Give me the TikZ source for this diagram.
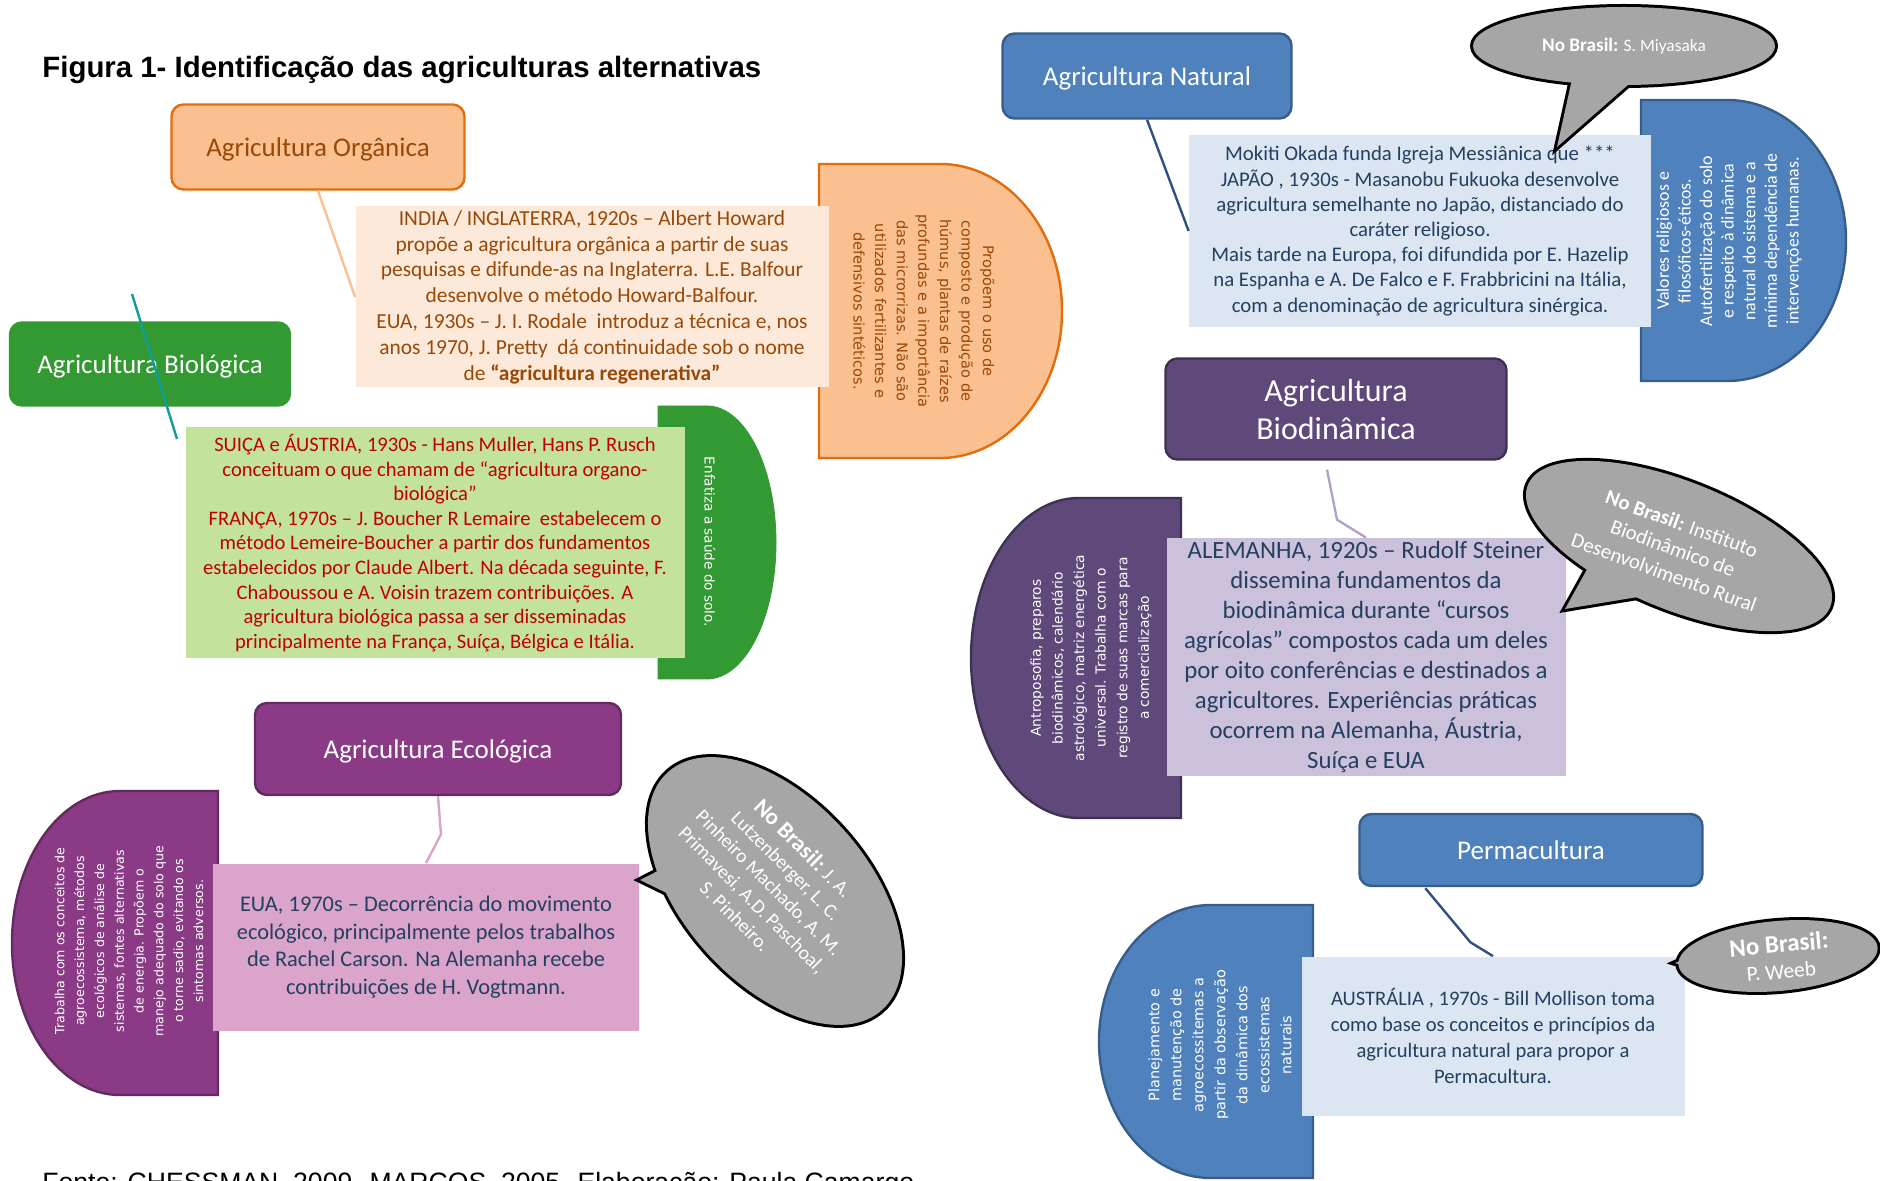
\documentclass[tikz,border=0pt]{standalone}
\usepackage{fontspec}
\setmainfont{Liberation Sans}
\newfontfamily\calib{Carlito}
\newfontfamily\verd{DejaVu Sans}
\usetikzlibrary{calc}
\definecolor{orgfill}{HTML}{FAC090}
\definecolor{orgdraw}{HTML}{E46C0A}
\definecolor{orgtext}{HTML}{984807}
\definecolor{peach}{HTML}{FDE9D9}
\definecolor{biogreen}{HTML}{339933}
\definecolor{biolight}{HTML}{C3E29C}
\definecolor{biored}{HTML}{C00000}
\definecolor{biolink}{HTML}{119C9C}
\definecolor{ecofill}{HTML}{8B3B85}
\definecolor{ecodraw}{HTML}{622A5E}
\definecolor{ecopink}{HTML}{DBA5CB}
\definecolor{ecolink}{HTML}{D9A3CC}
\definecolor{natblue}{HTML}{4F81BD}
\definecolor{natdraw}{HTML}{385D8A}
\definecolor{natlight}{HTML}{DCE6F2}
\definecolor{natlink}{HTML}{2F5080}
\definecolor{navytext}{HTML}{243F60}
\definecolor{biodfill}{HTML}{5F497A}
\definecolor{bioddraw}{HTML}{3F3151}
\definecolor{biodlight}{HTML}{CCC1DA}
\definecolor{biodlink}{HTML}{B3A2C7}
\definecolor{bubgray}{HTML}{A6A6A6}

\begin{document}
\begin{tikzpicture}[x=0.5pt, y=-0.5pt,
	head/.style={draw, rounded corners=6pt, line width=1.2pt, align=center, text=white, text depth=0pt, font=\calib\fontsize{13.5}{16}\selectfont},
	info/.style={inner sep=0pt, align=center},
	side/.style={inner sep=0pt, align=center, text=white},
	link/.style={line width=1.2pt},
	bubline/.style={line width=3pt, line join=miter},
	bubtext/.style={inner sep=0pt, align=center, text=white}]
	\useasboundingbox (0, 0) rectangle (1880, 1181);
	\clip (0, 0) rectangle (1880, 1181);

	\node[anchor=west, inner sep=0pt, font=\bfseries\fontsize{14.7}{17}\selectfont] (titulo) at (42, 70) {Figura 1- Identificação das agriculturas alternativas};
	\node[anchor=north west, inner sep=0pt, font=\fontsize{13.3}{16}\selectfont] (fonte) at (42, 1172) {Fonte: CHESSMAN, 2009. MARCOS, 2005. Elaboração: Paula Camargo};

	\draw[fill=orgfill, draw=orgdraw, line width=1.2pt] (819, 164) -- (940, 164) arc[start angle=90, end angle=-90, x radius=61pt, y radius=73.5pt] -- (819, 458) -- cycle;
	\draw[fill=biogreen, draw=biogreen] (658, 406) -- (707, 406) arc[start angle=90, end angle=-90, x radius=34.5pt, y radius=68.25pt] -- (658, 679) -- cycle;
	\draw[fill=natblue, draw=natdraw, line width=1.2pt] (1641, 100) -- (1727, 100) arc[start angle=90, end angle=-90, x radius=59.5pt, y radius=70.25pt] -- (1641, 381) -- cycle;
	\draw[fill=ecofill, draw=ecodraw, line width=1.2pt] (218, 791) -- (120, 791) arc[start angle=90, end angle=270, x radius=54pt, y radius=76pt] -- (218, 1095) -- cycle;
	\draw[fill=biodfill, draw=bioddraw, line width=1.2pt] (1181, 498) -- (1079, 498) arc[start angle=90, end angle=270, x radius=54pt, y radius=80pt] -- (1181, 818) -- cycle;
	\draw[fill=natblue, draw=natdraw, line width=1.2pt] (1313, 905) -- (1211, 905) arc[start angle=90, end angle=270, x radius=56pt, y radius=68.25pt] -- (1313, 1178) -- cycle;

	\node[info, fill=peach, text=orgtext, minimum width=236.5pt, minimum height=90.5pt, font=\calib\fontsize{10.7}{12.9}\selectfont] (orgtxt) at (592, 297) {INDIA / INGLATERRA, 1920s – Albert Howard\\propõe a agricultura orgânica a partir de suas\\pesquisas e difunde-as na Inglaterra. L.E. Balfour\\desenvolve o método Howard-Balfour.\\EUA, 1930s – J. I. Rodale\ \ introduz a técnica e, nos\\anos 1970, J. Pretty\ \ dá continuidade sob o nome\\de \textbf{“agricultura regenerativa”}};
	\node[info, fill=biolight, text=biored, minimum width=249.5pt, minimum height=115.5pt, font=\calib\fontsize{10.3}{12.3}\selectfont] (biotxt) at (435, 543) {SUIÇA e ÁUSTRIA, 1930s - Hans Muller, Hans P. Rusch\\conceituam o que chamam de “agricultura organo-\\biológica”\\FRANÇA, 1970s – J. Boucher R Lemaire\ \ estabelecem o\\método Lemeire-Boucher a partir dos fundamentos\\estabelecidos por Claude Albert. Na década seguinte, F.\\Chaboussou e A. Voisin trazem contribuições. A\\agricultura biológica passa a ser disseminadas\\principalmente na França, Suíça, Bélgica e Itália.};
	\node[info, fill=ecopink, text=navytext, minimum width=213pt, minimum height=83.5pt, font=\calib\fontsize{11.2}{13.8}\selectfont] (ecotxt) at (426, 947) {EUA, 1970s – Decorrência do movimento\\ecológico, principalmente pelos trabalhos\\de Rachel Carson. Na Alemanha recebe\\contribuições de H. Vogtmann.};
	\node[info, fill=natlight, text=navytext, minimum width=231pt, minimum height=96pt, font=\calib\fontsize{10.4}{12.6}\selectfont] (nattxt) at (1420, 231) {Mokiti Okada funda Igreja Messiânica que ***\\JAPÃO , 1930s - Masanobu Fukuoka desenvolve\\agricultura semelhante no Japão, distanciado do\\caráter religioso.\\Mais tarde na Europa, foi difundida por E. Hazelip\\na Espanha e A. De Falco e F. Frabbricini na Itália,\\com a denominação de agricultura sinérgica.};
	\node[info, fill=biodlight, text=navytext, minimum width=199.5pt, minimum height=119pt, font=\calib\fontsize{12.4}{15}\selectfont] (biodtxt) at (1366, 657) {ALEMANHA, 1920s – Rudolf Steiner\\dissemina fundamentos da\\biodinâmica durante “cursos\\agrícolas” compostos cada um deles\\por oito conferências e destinados a\\agricultores. Experiências práticas\\ocorrem na Alemanha, Áustria,\\Suíça e EUA};
	\node[info, fill=natlight, text=navytext, minimum width=191.5pt, minimum height=79.5pt, font=\calib\fontsize{10.3}{12.9}\selectfont] (permtxt) at (1493, 1036) {AUSTRÁLIA , 1970s - Bill Mollison toma\\como base os conceitos e princípios da\\agricultura natural para propor a\\Permacultura.};

	\node[side, text=orgtext, rotate=-90, font=\verd\fontsize{7.3}{10.8}\selectfont] (orgside) at (924, 311) {Propõem o uso de\\composto e produção de\\húmus, plantas de raízes\\profundas e a importância\\das microrrizas. Não são\\utilizados fertilizantes e\\defensivos sintéticos.};
	\node[side, rotate=-90, font=\verd\fontsize{6.8}{10}\selectfont] (bioside) at (710, 542) {Enfatiza a saúde do solo.};
	\node[side, rotate=90, font=\calib\fontsize{8.9}{10.8}\selectfont] (natside) at (1729, 241) {Valores religiosos e\\filosóficos-éticos.\\Autofertilização do solo\\e respeito à dinâmica\\natural do sistema e a\\mínima dependência de\\intervenções humanas.};
	\node[side, rotate=90, font=\verd\fontsize{6.3}{9.9}\selectfont] (ecoside) at (129, 941) {Trabalha com os conceitos de\\agroecossistema, métodos\\ecológicos de análise de\\sistemas, fontes alternativas\\de energia. Propõem o\\manejo adequado do solo que\\o torne sadio, evitando os\\sintomas adversos.};
	\node[side, rotate=90, font=\verd\fontsize{6.9}{10.8}\selectfont] (biodside) at (1091, 658) {Antroposofia, preparos\\biodinâmicos, calendário\\astrológico, matriz energética\\universal. Trabalha com o\\registro de suas marcas para\\a comercialização};
	\node[side, rotate=90, font=\verd\fontsize{7.2}{11}\selectfont] (permside) at (1220, 1045) {Planejamento e\\manutenção de\\agroecossitemas a\\partir da observação\\da dinâmica dos\\ecossistemas\\naturais};

	\node[head, fill=orgfill, draw=orgdraw, text=orgtext, minimum width=146.5pt, minimum height=42.5pt] (org) at (318, 147) {Agricultura Orgânica};
	\node[head, fill=biogreen, draw=biogreen, minimum width=140pt, minimum height=41.5pt] (bio) at (150, 364) {Agricultura Biológica};
	\node[head, fill=ecofill, draw=ecodraw, minimum width=183pt, minimum height=46pt] (eco) at (438, 749) {Agricultura Ecológica};
	\node[head, fill=natblue, draw=natdraw, minimum width=144.5pt, minimum height=42.5pt] (nat) at (1147, 76) {Agricultura Natural};
	\node[head, fill=biodfill, draw=bioddraw, minimum width=170.5pt, minimum height=50.5pt, font=\calib\fontsize{16}{19}\selectfont] (biod) at (1336, 409) {Agricultura\\Biodinâmica};
	\node[head, fill=natblue, draw=natdraw, minimum width=171.5pt, minimum height=36pt] (perm) at (1531, 850) {Permacultura};

	\coordinate (biotop) at (132, 294);
	\coordinate (biobot) at (177, 439);
	\draw[link, orgfill] (org.south) -- (orgtxt.west);
	\draw[link, biolink] (biotop) -- (biobot);
	\draw[link, ecolink] (eco.south) -- ++(3, 38) -- (ecotxt.north);
	\draw[link, natlink] (nat.south) -- (nattxt.west);
	\draw[link, biodlink] ($(biod.south)+(-9, 9)$) -- ++(10, 50) -- (biodtxt.north);
	\draw[link, natlink] ($(perm.south west)+(67, 1)$) -- ++(45, 54) -- (permtxt.north);

	\draw[bubline] (1624, 46) ellipse[x radius=75.5pt, y radius=19.5pt];
	\draw[bubline] (1574, 70) -- (1557, 147) -- (1645, 70);
	\fill[bubgray] (1624, 46) ellipse[x radius=75.5pt, y radius=19.5pt];
	\fill[bubgray] (1574, 70) -- (1557, 147) -- (1645, 70) -- cycle;
	\node[bubtext, font=\calib\fontsize{8.7}{10}\selectfont] (natbr) at (1624, 46) {{\fontsize{9.6}{10}\selectfont\textbf{No Brasil:}} S. Miyasaka};

	\draw[bubline, rotate around={-22:(1679, 546)}] (1679, 546) ellipse[x radius=81.5pt, y radius=32pt];
	\draw[bubline] (1595, 555) -- (1565, 609) -- (1650, 595);
	\fill[bubgray, rotate around={-22:(1679, 546)}] (1679, 546) ellipse[x radius=81.5pt, y radius=32pt];
	\fill[bubgray] (1595, 555) -- (1565, 609) -- (1650, 595) -- cycle;
	\node[bubtext, rotate=-20, font=\calib\fontsize{10.4}{13}\selectfont] (biodbr) at (1673, 548) {\textbf{No Brasil:} Instituto\\Biodinâmico de\\Desenvolvimento Rural};

	\draw[bubline, rotate around={-48:(775, 891)}] (775, 891) ellipse[x radius=80pt, y radius=46pt];
	\draw[bubline] (693, 853) -- (640, 880) -- (728, 923);
	\fill[bubgray, rotate around={-48:(775, 891)}] (775, 891) ellipse[x radius=80pt, y radius=46pt];
	\fill[bubgray] (693, 853) -- (640, 880) -- (728, 923) -- cycle;
	\node[bubtext, rotate=-45, font=\calib\fontsize{9.8}{12}\selectfont] (ecobr) at (770, 882) {{\fontsize{11.5}{12}\selectfont\textbf{No Brasil:}} J. A.\\Lutzenberger, L. C.\\Pinheiro Machado, A. M.\\Primavesi, A.D. Paschoal,\\S. Pinheiro.};

	\draw[bubline, rotate around={5:(1778, 956)}] (1778, 956) ellipse[x radius=50pt, y radius=17.5pt];
	\draw[bubline] (1700, 952) -- (1675, 963) -- (1712, 975);
	\fill[bubgray, rotate around={5:(1778, 956)}] (1778, 956) ellipse[x radius=50pt, y radius=17.5pt];
	\fill[bubgray] (1700, 952) -- (1675, 963) -- (1712, 975) -- cycle;
	\node[bubtext, rotate=5, font=\calib\fontsize{10.7}{13}\selectfont] (permbr) at (1780, 957) {{\fontsize{12.5}{13}\selectfont\textbf{No Brasil:}}\\P. Weeb};
\end{tikzpicture}
\end{document}
